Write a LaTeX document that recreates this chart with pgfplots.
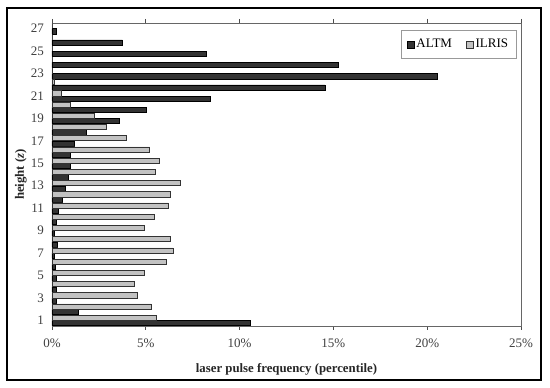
\documentclass[border=0pt]{standalone}
\usepackage{pgfplots}
\pgfplotsset{compat=1.18}
\usepackage{fontspec}
\setmainfont{Liberation Serif}
\definecolor{altm}{HTML}{333333}
\definecolor{ilris}{HTML}{C2C2C2}
\pgfplotstableread{
cat altm ilris
1 10.58 5.55
2 1.39 5.28
3 0.23 4.56
4 0.23 4.36
5 0.23 4.93
6 0.18 6.10
7 0.11 6.46
8 0.29 6.30
9 0.11 4.91
10 0.23 5.43
11 0.34 6.21
12 0.55 6.30
13 0.71 6.83
14 0.84 5.51
15 0.99 5.73
16 0.99 5.21
17 1.18 3.97
18 1.82 2.90
19 3.56 2.25
20 5.04 0.96
21 8.43 0.49
22 14.55 0.11
23 20.54 0.03
24 15.24 0
25 8.20 0
26 3.75 0
27 0.24 0
}\datatable
\begin{document}
\fontsize{12pt}{14pt}\selectfont
\begin{tikzpicture}[x=1pt,y=1pt]
\useasboundingbox (0,0) rectangle (550,388);
\fill[white] (0,0) rectangle (550,388);
\draw[line width=1.4pt] (7,8) rectangle (541,380);
\begin{axis}[
  at={(52pt,62pt)}, anchor=south west,
  scale only axis, width=469pt, height=303pt,
  xmin=0, xmax=25, ymin=0.5, ymax=27.5,
  xtick={0,5,10,15,20,25},
  xticklabels={0\%,5\%,10\%,15\%,20\%,25\%},
  ytick={1,3,...,27},
  yticklabels={1,3,5,7,9,11,13,15,17,19,21,23,25,27},
  minor ytick={0.5,1.5,...,27.5},
  tick align=outside,
  major tick length=4pt, minor tick length=3pt,
  ytick style={draw=none},
  axis line style={draw=gray!80!black, line width=0.6pt},
  xtick style={gray!60!black, line width=0.6pt},
  minor tick style={gray!60!black, line width=0.6pt},
  tick label style={font=\fontsize{13pt}{15pt}\selectfont, text=black!75},
  xticklabel style={yshift=-5pt},
  yticklabel style={xshift=0pt},
  xlabel={\textbf{laser pulse frequency (percentile)}},
  ylabel={\textbf{height (\textit{z})}},
  label style={font=\fontsize{12.8pt}{15pt}\selectfont, text=black!85},
  xlabel style={yshift=-7pt},
  ylabel style={yshift=-4pt},
  xbar, bar width=0.46,
  legend style={at={(0.99,0.977)}, anchor=north east, draw=gray!80, fill=white,
    legend columns=2, font=\fontsize{13pt}{15pt}\selectfont,
    /tikz/every even column/.append style={column sep=12pt},
    inner xsep=6pt, inner ysep=7pt},
  legend image code/.code={\draw[#1, line width=0.6pt] (0pt,-3.5pt) rectangle (7pt,3.5pt);},
  clip=false,
]
\addplot[fill=altm, draw=black, line width=0.5pt, bar shift=-0.24] table[x=altm, y=cat] {\datatable};
\addplot[fill=ilris, draw=black!80, line width=0.5pt, bar shift=0.24] table[x=ilris, y=cat] {\datatable};
\legend{ALTM, ILRIS}
\end{axis}
\end{tikzpicture}
\end{document}
